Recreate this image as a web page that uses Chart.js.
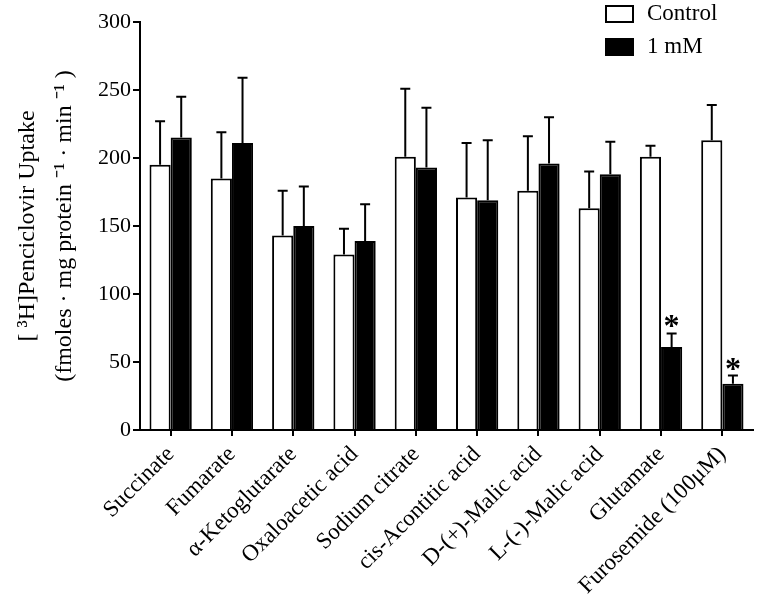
<!DOCTYPE html>
<html>
<head>
<meta charset="utf-8">
<script src="https://cdn.jsdelivr.net/npm/chart.js@4/dist/chart.umd.min.js"></script>
<style>
  html, body { margin: 0; padding: 0; background: #fff; }
  #wrap { width: 758px; height: 606px; }
</style>
</head>
<body>
<div id="wrap"><canvas id="myChart"></canvas></div>
<script>
// Data

const labels = [
  "Succinate",
  "Fumarate",
  "α-Ketoglutarate",
  "Oxaloacetic acid",
  "Sodium citrate",
  "cis-Acontitic acid",
  "D-(+)-Malic acid",
  "L-(-)-Malic acid",
  "Glutamate",
  "Furosemide (100μM)",
];
const control = [195, 185, 143, 129, 201, 171, 176, 163, 201, 213];
const controlErr = [32, 34, 33, 19, 50, 40, 40, 27, 8, 26];
const treated = [215, 211, 150, 139, 193, 169, 196, 188, 61, 34];
const treatedErr = [30, 48, 29, 27, 44, 44, 34, 24, 10, 6];
const marks = ["", "", "", "", "", "", "", "", "*", "*"];
const yTicks = [0, 50, 100, 150, 200, 250, 300];

const serif = "'Liberation Serif', 'Times New Roman', serif";
Chart.defaults.font.family = serif;
Chart.defaults.color = "#000";

// error bars (upper only), asterisks and legend boxes
const extras = {
  id: "extras",
  afterDatasetsDraw(chart) {
    const ctx = chart.ctx;
    const y = chart.scales.y;
    ctx.save();
    ctx.strokeStyle = "#000";
    ctx.lineWidth = 2;
    chart.data.datasets.forEach((ds, i) => {
      const meta = chart.getDatasetMeta(i);
      meta.data.forEach((bar, j) => {
        const top = y.getPixelForValue(ds.data[j] + ds.errors[j]);
        ctx.beginPath();
        ctx.moveTo(bar.x, bar.y);
        ctx.lineTo(bar.x, top);
        ctx.moveTo(bar.x - 5, top);
        ctx.lineTo(bar.x + 5, top);
        ctx.stroke();
        if (ds.marks && ds.marks[j]) {
          ctx.fillStyle = "#000";
          ctx.font = "bold 32px " + serif;
          ctx.textAlign = "center";
          ctx.textBaseline = "alphabetic";
          ctx.fillText(ds.marks[j], bar.x, top + 3);
        }
      });
    });

    // legend
    ctx.font = "23px " + serif;
    ctx.textAlign = "left";
    ctx.textBaseline = "middle";
    chart.data.datasets.forEach((ds, i) => {
      const ly = 14 + i * 33;
      ctx.fillStyle = ds.backgroundColor;
      ctx.fillRect(606, ly - 8, 27, 16);
      ctx.strokeRect(606, ly - 8, 27, 16);
      ctx.fillStyle = "#000";
      ctx.fillText(ds.label, 647, ly);
    });
    ctx.restore();
  },
};

new Chart(document.getElementById("myChart"), {
  type: "bar",
  data: {
    labels: labels,
    datasets: [
      {
        label: "Control",
        data: control,
        errors: controlErr,
        backgroundColor: "#fff",
        borderColor: "#000",
        borderWidth: 2,
        borderSkipped: "bottom",
        barPercentage: 1.0,
        categoryPercentage: 0.69,
      },
      {
        label: "1 mM",
        data: treated,
        errors: treatedErr,
        marks: marks,
        backgroundColor: "#000",
        borderColor: "#000",
        borderWidth: 2,
        barPercentage: 1.0,
        categoryPercentage: 0.69,
      },
    ],
  },
  options: {
    responsive: true,
    maintainAspectRatio: false,
    animation: false,
    layout: { padding: { top: 22, right: 5, left: 4, bottom: 0 } },
    plugins: { legend: { display: false }, tooltip: { enabled: false } },
    scales: {
      x: {
        offset: true,
        afterFit: (s) => { s.height = 176; },
        grid: {
          display: true,
          offset: false,
          drawOnChartArea: false,
          color: "#000",
          lineWidth: 2,
          tickLength: 6,
        },
        border: { color: "#000", width: 2 },
        ticks: {
          autoSkip: false,
          maxRotation: 45,
          minRotation: 45,
          font: { size: 23 },
          padding: 5,
        },
      },
      y: {
        min: 0,
        max: 300,
        afterFit: (s) => { s.width = 136; },
        afterBuildTicks: (axis) => {
          axis.ticks = yTicks.map((v) => ({ value: v }));
        },
        grid: {
          display: true,
          drawOnChartArea: false,
          color: "#000",
          lineWidth: 2,
          tickLength: 7,
        },
        border: { color: "#000", width: 2 },
        ticks: { font: { size: 22 }, padding: 2 },
        title: {
          display: true,
          text: ["[ ³H]Penciclovir Uptake", "(fmoles · mg protein ⁻¹ · min ⁻¹ )"],
          font: { size: 24, lineHeight: 1.55 },
          padding: { top: 5, bottom: 0 },
        },
      },
    },
  },
  plugins: [extras],
});
</script>
</body>
</html>
